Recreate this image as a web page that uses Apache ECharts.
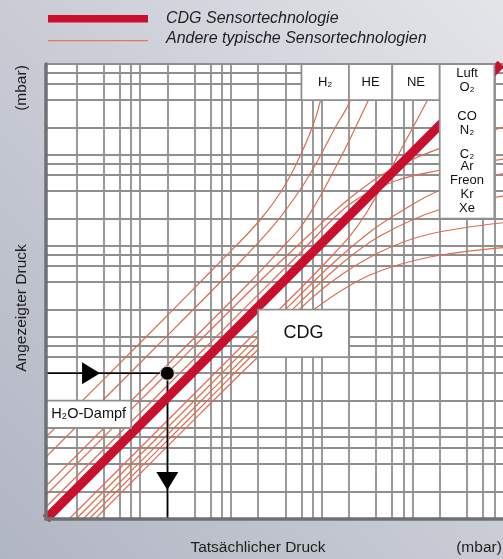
<!DOCTYPE html>
<html><head><meta charset="utf-8">
<script src="https://cdn.jsdelivr.net/npm/echarts@6/dist/echarts.min.js"></script>
<style>
html,body{margin:0;padding:0;width:503px;height:559px;overflow:hidden;}
body{background:linear-gradient(to top right,#b1b6c3 0%,#c9ccd5 50%,#e3e5e9 100%);}
#c{width:503px;height:559px;}
</style></head><body><div id="c"></div>
<script>
// ---- axis extents (actual pressure x, indicated pressure y; arbitrary mbar units) ----
const X_MIN = 0.461, X_MAX = 49800, Y_MIN = 1, Y_MAX = 100000;

// ---- grid line values ----
const xGrid = [1,2,3,4,5,10,20,30,40,50,100,200,300,400,500,1000,2000,3000,4000,5000,10000,20000,30000,40000];
const yGrid = [2,4,6,8,10,20,40,60,80,100,200,400,600,800,1000,2000,4000,6000,8000,10000,20000,40000,60000,80000,100000];

// ---- CDG sensor (thick line) ----
const cdg = [[0.461,1],[47300,100000]];

// ---- other sensor technologies (thin curves) ----
const gasH2  = [[0.461,7.96],[5.00,85.9],[38.0,667],[105,1931],[198,4677],[329,12880],[457,31260],[589,100000],[651,183600]];
const gasL2  = [[0.461,4.80],[6.45,66.7],[63.2,667],[153,1746],[289,4121],[457,8810],[703,19810],[1028,39180],[1324,100000],[1466,183600]];
const gasHe  = [[0.461,2.305],[6.45,32.0],[81.5,402],[174,903],[289,1577],[424,2823],[619,5585],[977,13550],[1622,39180],[2500,100000],[2985,183600]];
const gasNe  = [[0.827,1],[6.45,7.76],[81.5,97.5],[289,337],[619,738],[1028,1288],[1581,2364],[2500,5309],[4150,13900],[7244,39180],[11430,100000],[15520,183600]];
const gasH2O = [[0.461,1.835],[10,40],[99.8,392],[373,1355],[1028,3365],[2838,6839],[10330,11940],[59430,21380]];
const gasCO2 = [[0.461,1.355],[22.9,66.7],[289,838],[1028,2897],[3221,5176],[10330,6839],[59430,9268]];
const gasAr  = [[0.987,1],[22.9,23.05],[174,174.6],[619,603],[1706,1426],[3656,2364],[10330,4121],[59430,6502]];
const gasFr  = [[1.179,1],[22.9,19.3],[224,188],[798,618],[2203,1288],[10330,2553],[59430,3631]];
const gasKr  = [[1.373,1],[22.9,16.6],[174,125.6],[619,392],[2202,859],[7816,1355],[59430,1836]];
const gasXe  = [[1.598,1],[22.9,14.3],[135,79.6],[481,225],[1707,480],[7816,757],[59430,975]];
const thinCurves = [gasH2, gasL2, gasHe, gasNe, gasH2O, gasCO2, gasAr, gasFr, gasKr, gasXe];

// ---- reading example (H2O) ----
const arrowPath  = [[0.461,40],[10,40],[10,1]];
const arrowRight = [1.445,40];
const arrowDown  = [10,2.62];
const readPoint  = [10,40];

// ---- label boxes ----
const boxText = ['H₂','HE','NE','LUFT','CDG','H₂O-Dampf'];
const boxX = [[300,1000],[1000,3000],[3000,10000],[10000,40000],[100,1000],[0.461,4]];
const boxY = [[40000,100000],[40000,100000],[40000,100000],[2000,100000],[60,200],[10,20]];

const FONT = '"Liberation Sans", Arial, sans-serif';
const GRID_C = '#8f8f8f';
const THIN_C = '#dc6c4f';
const RED = '#c8102e';

const luftRich = '{t|Luft}\n{t|O₂}\n{g| }\n{t|CO}\n{t|N₂}\n{h| }\n{c|C₂}\n{t|Ar}\n{t|Freon}\n{t|Kr}\n{t|Xe}';

const boxData = boxText.map((t,i)=>{
  let label;
  if (t === 'LUFT') {
    label = {show:true, position:'insideTop', distance:3, formatter: luftRich, color:'#111',
      rich:{ t:{fontSize:13, lineHeight:14, fontFamily:FONT, color:'#111'},
             g:{fontSize:13, lineHeight:15, fontFamily:FONT},
             h:{fontSize:13, lineHeight:12, fontFamily:FONT},
             c:{fontSize:13, lineHeight:10, fontFamily:FONT, color:'#111'} } };
  } else {
    const fs = t === 'CDG' ? 18 : (t === 'H₂O-Dampf' ? 14.5 : 13);
    label = {show:true, position:'inside', formatter: t, fontSize: fs, fontFamily: FONT, color:'#111'};
  }
  return [{xAxis: boxX[i][0], yAxis: boxY[i][0], label},
          {xAxis: boxX[i][1], yAxis: boxY[i][1]}];
});

const series = [];
series.push({
  type:'line', data:[], z:1, silent:true, animation:false,
  markLine:{ z:1, silent:true, animation:false, symbol:['none','none'], label:{show:false},
    lineStyle:{color:GRID_C, width:1.8, type:'solid'},
    emphasis:{disabled:true},
    data: xGrid.map(v=>({xAxis:v})).concat(yGrid.map(v=>({yAxis:v}))) }
});
thinCurves.forEach(d=>{
  series.push({type:'line', data:d, z:3, showSymbol:false, smooth:0.35,
    silent:true, animation:false, lineStyle:{color:THIN_C, width:1.2}});
});
series.push({type:'line', data:arrowPath, z:3, showSymbol:false, silent:true, animation:false,
  lineStyle:{color:'#000', width:1.5},
  markPoint:{ z:5, silent:true, animation:false, label:{show:false}, itemStyle:{color:'#000'},
    data:[
      {coord:arrowRight, symbol:'triangle', symbolSize:[22,18], symbolRotate:-90},
      {coord:arrowDown, symbol:'triangle', symbolSize:[22,18], symbolRotate:180},
      {coord:readPoint, symbol:'circle', symbolSize:14, itemStyle:{color:'#000', borderColor:'#d8d8d8', borderWidth:1}}
    ]}
});
series.push({type:'line', data:cdg, z:4, showSymbol:false, silent:true, animation:false,
  lineStyle:{color:RED, width:9}});
series.push({type:'line', data:[], z:6, silent:true, animation:false,
  markArea:{ z:6, silent:true, animation:false,
    itemStyle:{color:'#ffffff', borderColor:GRID_C, borderWidth:1.8, opacity:1},
    data: boxData }
});

const T = {fill:'#1e1e1e', align:'center', textAlign:'center', verticalAlign:'middle', textVerticalAlign:'middle'};
const chart = echarts.init(document.getElementById('c'), null, {renderer:'canvas'});
chart.setOption({
  animation:false,
  backgroundColor:'transparent',
  grid:{left:46, top:64, right:0, bottom:40, show:true, backgroundColor:'#ffffff', borderWidth:0, outerBoundsMode:'none'},
  xAxis:{type:'log', logBase:10, min:X_MIN, max:X_MAX, z:8,
    axisLine:{show:true, onZero:false, lineStyle:{color:'#6f7075', width:3.5}},
    axisTick:{show:false}, axisLabel:{show:false}, splitLine:{show:false}, minorSplitLine:{show:false}},
  yAxis:{type:'log', logBase:10, min:Y_MIN, max:Y_MAX, z:8,
    axisLine:{show:true, onZero:false, lineStyle:{color:'#6f7075', width:3.5}},
    axisTick:{show:false}, axisLabel:{show:false}, splitLine:{show:false}, minorSplitLine:{show:false}},
  graphic:[
    {type:'rect', shape:{x:48,y:15,width:100,height:7.5}, style:{fill:RED}},
    {type:'line', shape:{x1:48,y1:40.7,x2:148,y2:40.7}, style:{stroke:'#e07a5e', lineWidth:1.3}},
    {type:'text', x:166, y:19, style:{text:'CDG Sensortechnologie', font:'italic 16px '+FONT, fill:'#1e1e1e', verticalAlign:'middle', textVerticalAlign:'middle'}},
    {type:'text', x:166, y:39, style:{text:'Andere typische Sensortechnologien', font:'italic 16px '+FONT, fill:'#1e1e1e', verticalAlign:'middle', textVerticalAlign:'middle'}},
    {type:'text', x:22, y:88, rotation:Math.PI/2, style:Object.assign({text:'(mbar)', font:'15.5px '+FONT}, T)},
    {type:'text', x:22, y:308, rotation:Math.PI/2, style:Object.assign({text:'Angezeigter Druck', font:'15.5px '+FONT}, T)},
    {type:'text', x:258, y:548, style:Object.assign({text:'Tatsächlicher Druck', font:'15.5px '+FONT}, T)},
    {type:'text', x:479, y:548, style:Object.assign({text:'(mbar)', font:'15.5px '+FONT}, T)}
  ],
  series: series
});
</script></body></html>
